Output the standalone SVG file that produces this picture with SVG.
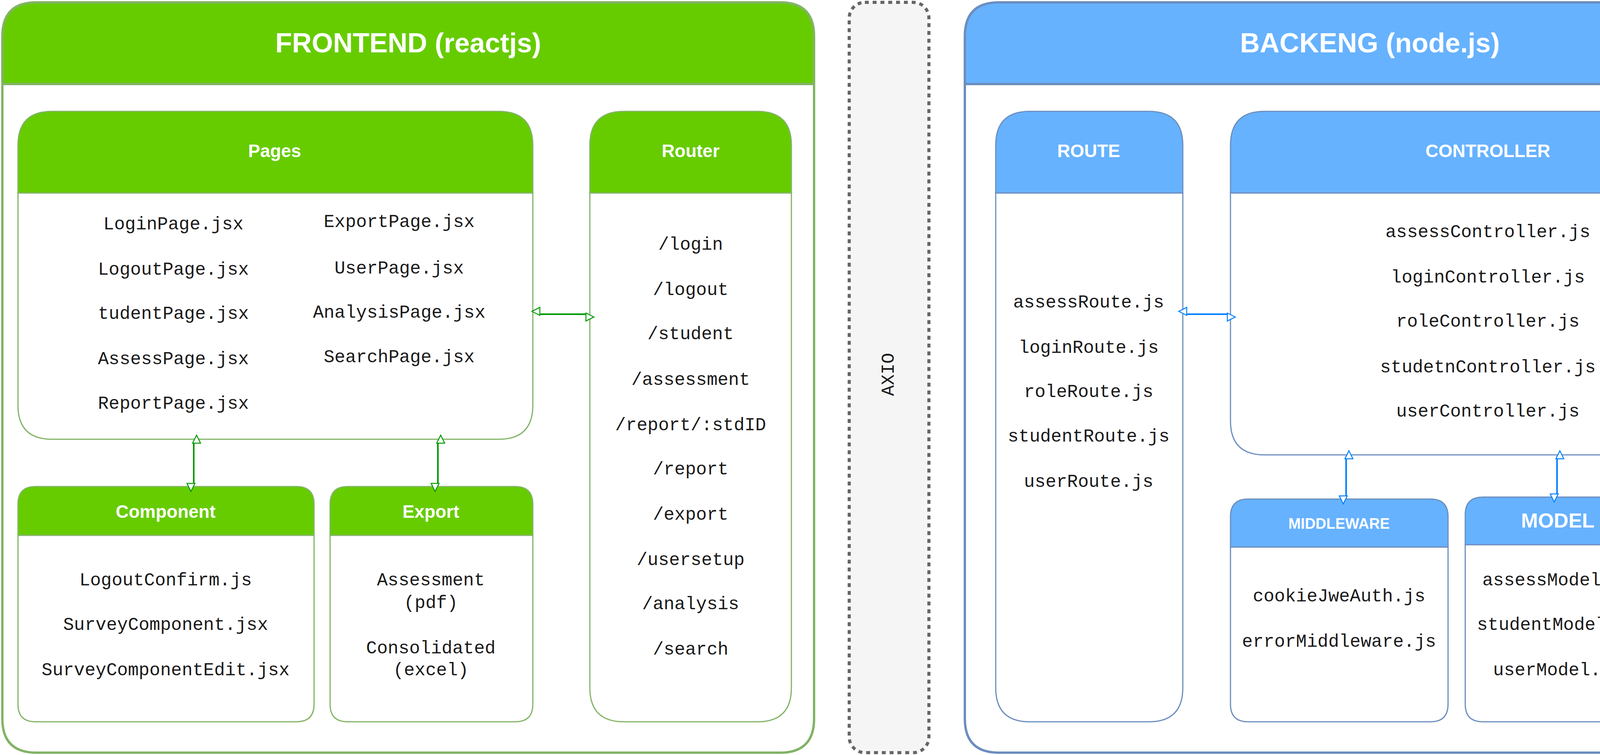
<svg xmlns="http://www.w3.org/2000/svg" width="4552" height="1932" viewBox="0 0 4552 1932">
<defs>
<style>
.t{font-family:"Liberation Sans",Arial,sans-serif;font-weight:bold;fill:#fff;text-anchor:middle;dominant-baseline:central}
.m{font-family:"Liberation Mono","Courier New",monospace;font-size:46px;fill:#1a1a1a;text-anchor:middle;dominant-baseline:central}
.gh{fill:#66CC00;stroke:#82b366}
.bh{fill:#66B2FF;stroke:#6c8ebf}
.gb{fill:#fff;stroke:#82b366}
.bb{fill:#fff;stroke:#6c8ebf}
.gc{stroke:#009900;stroke-width:4;fill:none;marker-start:url(#ga);marker-end:url(#ga)}
.bc{stroke:#007FFF;stroke-width:4;fill:none;marker-start:url(#ba);marker-end:url(#ba)}
</style>
<marker id="ga" viewBox="0 0 10 10" refX="10" refY="5" markerWidth="6" markerHeight="6" orient="auto-start-reverse" markerUnits="userSpaceOnUse" overflow="visible"><path d="M0,0 L10,5 L0,10 Z" transform="scale(3.4)" fill="#fff" stroke="#009900" stroke-width="1.2"/></marker>
<marker id="ba" viewBox="0 0 10 10" refX="10" refY="5" markerWidth="6" markerHeight="6" orient="auto-start-reverse" markerUnits="userSpaceOnUse" overflow="visible"><path d="M0,0 L10,5 L0,10 Z" transform="scale(3.4)" fill="#fff" stroke="#007FFF" stroke-width="1.2"/></marker>
</defs>
<rect width="4552" height="1932" fill="#fff"/>

<g id="frontend">
<path class="gh" stroke-width="6" d="M6,215 V93 Q6,6 93,6 H1997 Q2084,6 2084,93 V215 Z"/>
<path class="gb" stroke-width="6" d="M6,215 H2084 V1839 Q2084,1926 1997,1926 H93 Q6,1926 6,1839 Z"/>
<text class="t" x="1045" y="110" font-size="70">FRONTEND (reactjs)</text>
</g>

<g id="pages">
<path class="gh" stroke-width="3" d="M46,494 V372 Q46,285 133,285 H1277 Q1364,285 1364,372 V494 Z"/>
<path class="gb" stroke-width="3" d="M46,494 H1364 V1037 Q1364,1124 1277,1124 H133 Q46,1124 46,1037 Z"/>
<text class="t" x="703" y="386" font-size="46">Pages</text>
<text class="m" x="444" y="575">LoginPage.jsx</text>
<text class="m" x="444" y="691">LogoutPage.jsx</text>
<text class="m" x="444" y="804">tudentPage.jsx</text>
<text class="m" x="444" y="920">AssessPage.jsx</text>
<text class="m" x="444" y="1034">ReportPage.jsx</text>
<text class="m" x="1022" y="569">ExportPage.jsx</text>
<text class="m" x="1022" y="688">UserPage.jsx</text>
<text class="m" x="1022" y="801">AnalysisPage.jsx</text>
<text class="m" x="1022" y="915">SearchPage.jsx</text>
</g>

<g id="router">
<path class="gh" stroke-width="3" d="M1510,494 V372 Q1510,285 1597,285 H1939 Q2026,285 2026,372 V494 Z"/>
<path class="gb" stroke-width="3" d="M1510,494 H2026 V1760 Q2026,1847 1939,1847 H1597 Q1510,1847 1510,1760 Z"/>
<text class="t" x="1768" y="386" font-size="46">Router</text>
<text class="m" x="1768" y="627">/login</text>
<text class="m" x="1768" y="743">/logout</text>
<text class="m" x="1768" y="856">/student</text>
<text class="m" x="1768" y="973">/assessment</text>
<text class="m" x="1768" y="1089">/report/:stdID</text>
<text class="m" x="1768" y="1202">/report</text>
<text class="m" x="1768" y="1318">/export</text>
<text class="m" x="1768" y="1434">/usersetup</text>
<text class="m" x="1768" y="1547">/analysis</text>
<text class="m" x="1768" y="1663">/search</text>
</g>

<g id="component">
<path class="gh" stroke-width="3" d="M46,1370 V1290 Q46,1245 91,1245 H759 Q804,1245 804,1290 V1370 Z"/>
<path class="gb" stroke-width="3" d="M46,1370 H804 V1802 Q804,1847 759,1847 H91 Q46,1847 46,1802 Z"/>
<text class="t" x="424" y="1309" font-size="46">Component</text>
<text class="m" x="424" y="1486">LogoutConfirm.js</text>
<text class="m" x="424" y="1600">SurveyComponent.jsx</text>
<text class="m" x="424" y="1716">SurveyComponentEdit.jsx</text>
</g>

<g id="export">
<path class="gh" stroke-width="3" d="M845,1370 V1290 Q845,1245 890,1245 H1319 Q1364,1245 1364,1290 V1370 Z"/>
<path class="gb" stroke-width="3" d="M845,1370 H1364 V1802 Q1364,1847 1319,1847 H890 Q845,1847 845,1802 Z"/>
<text class="t" x="1103" y="1309" font-size="46">Export</text>
<text class="m" x="1103" y="1486">Assessment</text>
<text class="m" x="1103" y="1544">(pdf)</text>
<text class="m" x="1103" y="1660">Consolidated</text>
<text class="m" x="1103" y="1716">(excel)</text>
</g>

<g id="axio">
<rect x="2174" y="6" width="204" height="1920" rx="40" fill="#f5f5f5" stroke="#666" stroke-width="8" stroke-dasharray="10,10"/>
<text class="m" x="2276" y="958" font-size="58" fill="#333" transform="rotate(-90 2276 958)">AXIO</text>
</g>

<g id="backend">
<path class="bh" stroke-width="6" d="M2470,215 V93 Q2470,6 2557,6 H4459 Q4546,6 4546,93 V215 Z"/>
<path class="bb" stroke-width="6" d="M2470,215 H4546 V1839 Q4546,1926 4459,1926 H2557 Q2470,1926 2470,1839 Z"/>
<text class="t" x="3507" y="110" font-size="70">BACKENG (node.js)</text>
</g>

<g id="route">
<path class="bh" stroke-width="3" d="M2549,494 V372 Q2549,285 2636,285 H2941 Q3028,285 3028,372 V494 Z"/>
<path class="bb" stroke-width="3" d="M2549,494 H3028 V1760 Q3028,1847 2941,1847 H2636 Q2549,1847 2549,1760 Z"/>
<text class="t" x="2787" y="386" font-size="46">ROUTE</text>
<text class="m" x="2787" y="775">assessRoute.js</text>
<text class="m" x="2787" y="891">loginRoute.js</text>
<text class="m" x="2787" y="1004">roleRoute.js</text>
<text class="m" x="2787" y="1118">studentRoute.js</text>
<text class="m" x="2787" y="1234">userRoute.js</text>
</g>

<g id="controller">
<path class="bh" stroke-width="3" d="M3150,494 V372 Q3150,285 3237,285 H4381 Q4468,285 4468,372 V494 Z"/>
<path class="bb" stroke-width="3" d="M3150,494 H4468 V1077 Q4468,1164 4381,1164 H3237 Q3150,1164 3150,1077 Z"/>
<text class="t" x="3809" y="386" font-size="46">CONTROLLER</text>
<text class="m" x="3809" y="595">assessController.js</text>
<text class="m" x="3809" y="711">loginController.js</text>
<text class="m" x="3809" y="824">roleController.js</text>
<text class="m" x="3809" y="941">studetnController.js</text>
<text class="m" x="3809" y="1054">userController.js</text>
</g>

<g id="middleware">
<path class="bh" stroke-width="3" d="M3150,1400 V1322 Q3150,1277 3195,1277 H3662 Q3707,1277 3707,1322 V1400 Z"/>
<path class="bb" stroke-width="3" d="M3150,1400 H3707 V1802 Q3707,1847 3662,1847 H3195 Q3150,1847 3150,1802 Z"/>
<text class="t" x="3428" y="1340" font-size="38">MIDDLEWARE</text>
<text class="m" x="3428" y="1527">cookieJweAuth.js</text>
<text class="m" x="3428" y="1643">errorMiddleware.js</text>
</g>

<g id="model">
<path class="bh" stroke-width="3" d="M3751,1394 V1317 Q3751,1272 3796,1272 H4182 Q4227,1272 4227,1317 V1394 Z"/>
<path class="bb" stroke-width="3" d="M3751,1394 H4227 V1802 Q4227,1847 4182,1847 H3796 Q3751,1847 3751,1802 Z"/>
<text class="t" x="3988" y="1332" font-size="52">MODEL</text>
<text class="m" x="3988" y="1486">assessModel.js</text>
<text class="m" x="3988" y="1600">studentModel.js</text>
<text class="m" x="3988" y="1716">userModel.js</text>
</g>

<g id="mongodb">
<path d="M4267,1443 V1592 A120,43 0 0 0 4507,1592 V1443 A120,43 0 0 0 4267,1443 Z" fill="#dae8fc" stroke="#6c8ebf" stroke-width="6"/>
<path d="M4267,1443 A120,43 0 0 0 4507,1443" fill="none" stroke="#6c8ebf" stroke-width="6"/>
<text class="m" x="4387" y="1550">MongoDB</text>
</g>

<g id="connectors">
<path class="gc" d="M1376,804 H1506"/>
<path class="gc" d="M496,1128 V1243"/>
<path class="gc" d="M1121,1128 V1243"/>
<path class="bc" d="M3032,804 H3148"/>
<path class="bc" d="M3446,1168 V1275"/>
<path class="bc" d="M3986,1168 V1270"/>
<path class="bc" d="M4231,1312 H4360 Q4386,1312 4386,1338 V1398"/>
</g>
</svg>
